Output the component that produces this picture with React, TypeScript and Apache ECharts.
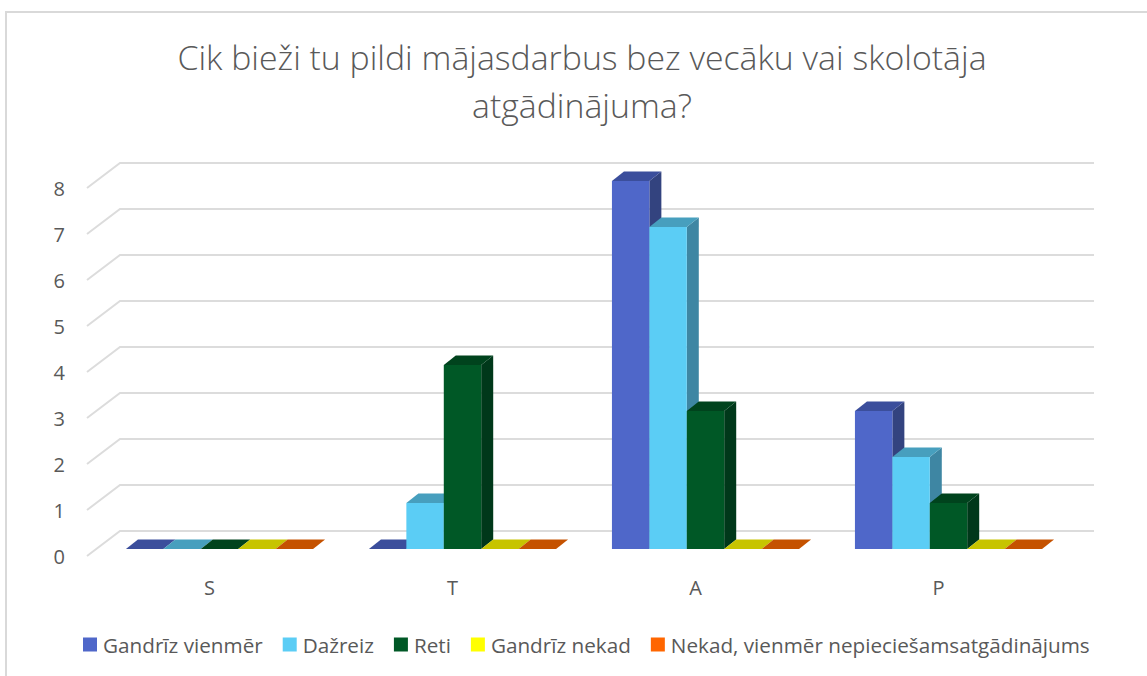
import React, { useEffect, useRef } from "react";
import * as echarts from "echarts";

const titleText = "Cik bieži tu pildi mājasdarbus bez vecāku vai skolotāja\natgādinājuma?";
const categories = ["S", "T", "A", "P"];
const seriesNames = ["Gandrīz vienmēr", "Dažreiz", "Reti", "Gandrīz nekad", "Nekad, vienmēr nepieciešamsatgādinājums"];
const gandrizVienmer = [0, 0, 8, 3];
const dazreiz = [0, 1, 7, 2];
const reti = [0, 4, 3, 1];
const gandrizNekad = [0, 0, 0, 0];
const nekad = [0, 0, 0, 0];
const valueTicks = [0, 1, 2, 3, 4, 5, 6, 7, 8];
const seriesValues = [gandrizVienmer, dazreiz, reti, gandrizNekad, nekad];
const frontColors = ["#4f67c9", "#5bcdf5", "#005826", "#ffff00", "#ff6600"];
const topColors = ["#3b4e9c", "#479fbe", "#00431d", "#c7c400", "#c55200"];
const sideColors = ["#33437f", "#3e86a3", "#00381a", "#a8a600", "#a84600"];

const TEXT = "#595959";
const FONT = "'Open Sans', sans-serif";
const DEPTH_X = 12;
const DEPTH_Y = 9.5;

export default function App() {
  const ref = useRef<HTMLDivElement>(null);
  useEffect(() => {
    const chart = echarts.init(ref.current!, null, { renderer: "svg" });
    const barSeries = seriesNames.map((name, si) => ({
      type: "custom",
      name,
      clip: false,
      z: 3,
      itemStyle: { color: frontColors[si] },
      data: categories.map((c, i) => [i, seriesValues[si][i]]),
      renderItem: (_p: any, api: any) => {
        const [cx, y1] = api.coord([api.value(0), api.value(1)]);
        const [, y0] = api.coord([api.value(0), 0]);
        const w = api.size([1, 0])[0] * 0.154;
        const x = cx + 10 + (si - 2.5) * w;
        const base = y0 - 7;
        const top = y1 - 7;
        const children: any[] = [];
        if (base - top > 0) {
          children.push({
            type: "polygon",
            shape: { points: [[x + w, top], [x + w + DEPTH_X, top - DEPTH_Y], [x + w + DEPTH_X, base - DEPTH_Y], [x + w, base]] },
            style: { fill: sideColors[si] },
          });
          children.push({
            type: "rect",
            shape: { x, y: top, width: w, height: base - top },
            style: { fill: frontColors[si] },
          });
        }
        children.push({
          type: "polygon",
          shape: { points: [[x, top], [x + w, top], [x + w + DEPTH_X, top - DEPTH_Y], [x + DEPTH_X, top - DEPTH_Y]] },
          style: { fill: topColors[si] },
        });
        return { type: "group", children };
      },
    }));
    const gridSeries = {
      type: "custom",
      name: "gridlines",
      clip: false,
      z: 1,
      silent: true,
      data: valueTicks.map((v) => [0, v]),
      renderItem: (_p: any, api: any) => {
        const y = api.coord([0, api.value(1)])[1];
        const left = 87;
        const right = 1094;
        return {
          type: "polyline",
          shape: { points: [[left, y], [left + 33, y - 25], [right, y - 25]] },
          style: { fill: "none", stroke: "#dcdcdc", lineWidth: 2 },
        };
      },
    };
    chart.setOption({
      animation: false,
      backgroundColor: "#ffffff",
      title: {
        text: titleText,
        left: 577,
        top: 28,
        textAlign: "center",
        textStyle: { color: TEXT, fontFamily: FONT, fontSize: 33.8, fontWeight: 300, lineHeight: 48 },
      },
      grid: { left: 88, top: 188, width: 972, height: 368 },
      xAxis: {
        type: "category",
        data: categories,
        axisLine: { show: false },
        axisTick: { show: false },
        axisLabel: { color: TEXT, fontFamily: FONT, fontSize: 20, margin: 21 },
      },
      yAxis: {
        type: "value",
        min: 0,
        max: 8,
        interval: 1,
        splitLine: { show: false },
        axisLine: { show: false },
        axisTick: { show: false },
        axisLabel: { color: TEXT, fontFamily: FONT, fontSize: 20, margin: 23 },
      },
      legend: {
        data: seriesNames,
        left: 83,
        top: 634,
        icon: "rect",
        itemWidth: 14,
        itemHeight: 14,
        itemGap: 20,
        padding: 0,
        textStyle: { color: TEXT, fontFamily: FONT, fontSize: 20.7, padding: [0, 0, 0, 1] },
      },
      graphic: [
        { type: "polyline", shape: { points: [[6, 676], [6, 12], [1147, 12]] }, style: { fill: "none", stroke: "#d9d9d9", lineWidth: 2 } },
      ],
      series: [gridSeries, ...barSeries],
    });
    return () => chart.dispose();
  }, []);
  return <div ref={ref} style={{ position: "absolute", left: 0, top: 0, width: 1147, height: 676 }} />;
}
